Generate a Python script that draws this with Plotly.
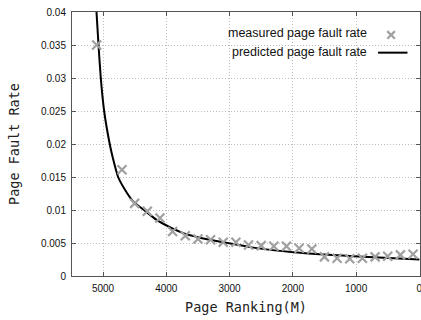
import plotly.graph_objects as go

# measured page fault rate (grey crosses)
measured_rank = [5100, 4700, 4500, 4300, 4100, 3900, 3700, 3500, 3300, 3100, 2900, 2700,
                 2500, 2300, 2100, 1900, 1700, 1500, 1300, 1100, 900, 700, 500, 300, 100]
measured_rate = [0.0350, 0.0161, 0.0110, 0.0098, 0.0088, 0.00675, 0.0061, 0.0056, 0.0055,
                 0.0051, 0.0051, 0.0047, 0.0046, 0.0045, 0.0045, 0.0042, 0.0041, 0.0029,
                 0.0027, 0.0026, 0.0027, 0.0029, 0.0030, 0.0032, 0.0033]

# predicted page fault rate (black curve)
predicted_rank = [5103, 5071, 5035, 4982, 4900, 4850, 4761, 4655, 4524, 4339, 4153, 3943,
                  3733, 3468, 3100, 2625, 1992, 1043, 0]
predicted_rate = [0.0400, 0.0350, 0.0300, 0.0250, 0.0203, 0.0181, 0.0150, 0.0131, 0.0113,
                  0.0099, 0.0085, 0.0074, 0.0065, 0.0058, 0.0051, 0.0043, 0.0036, 0.0030,
                  0.0025]

x_ticks = [5000, 4000, 3000, 2000, 1000, 0]
x_tick_text = ["5000", "4000", "3000", "2000", "1000", "0"]
y_ticks = [0, 0.005, 0.01, 0.015, 0.02, 0.025, 0.03, 0.035, 0.04]
y_tick_text = ["0", "0.005", "0.01", "0.015", "0.02", "0.025", "0.03", "0.035", "0.04"]

legend_labels = ["measured page fault rate", "predicted page fault rate"]

MARK = "#a0a0a0"
AXIS = "#555555"
GRID = "#bdbdbd"
tick_font = dict(family="Liberation Sans, Arial, sans-serif", size=10, color="#111")
title_font = dict(family="DejaVu Sans Mono, monospace", size=13.5, color="#222")

fig = go.Figure()
fig.add_trace(go.Scatter(
    x=predicted_rank, y=predicted_rate, mode="lines",
    line=dict(color="#000000", width=2, shape="spline", smoothing=0.6),
    name=legend_labels[1], showlegend=False, cliponaxis=True))
fig.add_trace(go.Scatter(
    x=measured_rank, y=measured_rate, mode="markers",
    marker=dict(symbol="x-thin-open", size=9, color=MARK, line=dict(color=MARK, width=2.2)),
    name=legend_labels[0], showlegend=False))

axis_common = dict(showline=True, linecolor=AXIS, linewidth=1, mirror="ticks",
                   ticks="inside", ticklen=4, tickcolor=AXIS,
                   showgrid=True, gridcolor=GRID, griddash="1px,2px", gridwidth=1,
                   zeroline=False, tickfont=tick_font, automargin=False,
                   ticklabeloverflow="allow")

fig.update_xaxes(range=[5490, -10], tickvals=x_ticks, ticktext=x_tick_text,
                 ticklabelstandoff=3,
                 title=dict(text="Page Ranking(M)", font=title_font, standoff=9),
                 **axis_common)
fig.update_yaxes(range=[0, 0.04], tickvals=y_ticks, ticktext=y_tick_text,
                 ticklabelstandoff=3,
                 title=dict(text="Page Fault Rate", font=title_font, standoff=18),
                 **axis_common)

# custom legend: text right-aligned, symbol to the right
legend_font = dict(family="Liberation Sans, Arial, sans-serif", size=12.5, color="#111")
fig.add_annotation(xref="paper", yref="paper", x=0.8545, y=0.9205, xanchor="right",
                   yanchor="middle", text=legend_labels[0], showarrow=False, font=legend_font)
fig.add_annotation(xref="paper", yref="paper", x=0.8545, y=0.8495, xanchor="right",
                   yanchor="middle", text=legend_labels[1], showarrow=False, font=legend_font)
# cross glyph
cx, cy, d = 0.917, 0.913, 0.011
dy = d * 348 / 264.6
fig.add_shape(type="line", xref="paper", yref="paper", x0=cx - d, x1=cx + d,
              y0=cy - dy, y1=cy + dy, line=dict(color=MARK, width=2.2))
fig.add_shape(type="line", xref="paper", yref="paper", x0=cx - d, x1=cx + d,
              y0=cy + dy, y1=cy - dy, line=dict(color=MARK, width=2.2))
# line glyph
fig.add_shape(type="line", xref="paper", yref="paper", x0=0.8795, x1=0.964,
              y0=0.846, y1=0.846, line=dict(color="#000000", width=2))

fig.update_layout(width=421, height=320,
                  margin=dict(l=72, r=1, t=12, b=44),
                  paper_bgcolor="white", plot_bgcolor="white",
                  showlegend=False)

fig.write_html("out.html", config={"displayModeBar": False},
               post_script="document.body.style.margin='0';document.body.style.overflow='hidden';")
